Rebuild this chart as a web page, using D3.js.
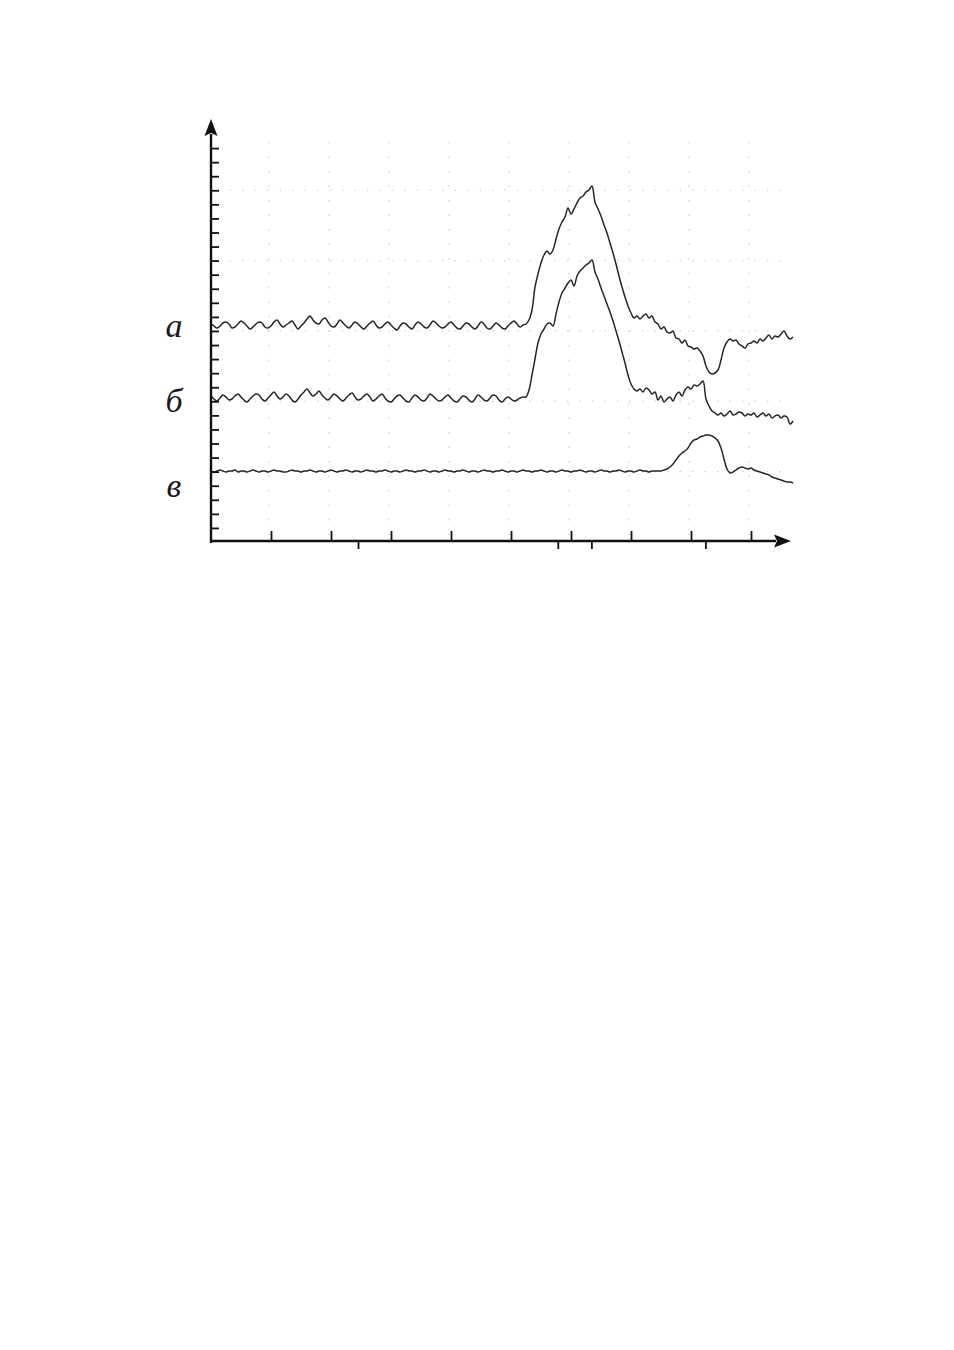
<!DOCTYPE html>
<html><head><meta charset="utf-8">
<script src="https://cdn.jsdelivr.net/npm/d3@7"></script>
<style>html,body{margin:0;padding:0;background:#fff;}</style>
</head><body><svg id="chart" width="954" height="1350"></svg>
<script>
// ---- data (amplitude in arbitrary units, time in arbitrary units) ----
const seriesNames = ["а", "б", "в"];
const sampleStep = 0.5;           // time step between samples
const labelLevels = [216.5, 142, 57];
const majorTicksX = [10, 20, 30, 40, 50, 60, 70, 80, 90];
const markerTicksX = [24.5, 57.8, 63.4, 82.4];
const gridEveryNthTick = 5;

const traceA = [
218,216,214,216,219,220,218,214,215,218,
221,219,216,213,215,218,220,219,215,214,
216,220,222,218,215,217,219,221,217,213,
216,219,223,226,222,219,218,222,224,220,
216,215,218,222,219,216,214,217,220,218,
215,213,216,219,221,217,214,215,218,220,
217,214,212,216,219,218,215,213,217,220,
218,215,214,217,221,219,216,214,215,218,
220,217,214,213,216,219,218,215,213,216,
220,218,214,213,216,219,217,214,213,216,
219,221,218,215,217,
218,222,232,255,268,279,287,291,288,292,
303,313,320,325,334,328,333,339,344,346,
350,352,356,340,333,326,317,309,299,289,
278,266,255,245,236,229,224,226,223,226,
228,224,226,220,218,213,215,210,209,211,
204,203,199,202,196,195,193,194,191,186,
176,170,168,169,172,182,194,200,203,201,
202,198,196,194,198,199,201,199,203,201,
204,207,203,206,205,208,211,206,203,205
];

const traceB = [
146,143,141,144,147,145,142,143,146,148,
145,142,140,143,146,148,147,143,141,144,
147,150,146,143,145,148,146,142,140,143,
147,150,153,149,146,148,151,147,144,142,
145,148,146,143,141,144,147,149,145,142,
143,146,148,145,141,143,146,148,144,141,
140,143,146,147,144,141,140,144,147,145,
142,141,144,148,146,143,141,142,145,147,
144,141,140,143,146,145,142,140,143,147,
145,142,141,144,147,146,142,140,143,145,
143,141,142,144,145,
145,152,167,183,199,208,213,218,219,216,
228,240,249,254,259,262,256,266,271,274,
277,279,282,270,263,254,246,238,230,221,
211,201,190,179,167,158,153,151,153,150,
154,152,148,150,142,146,140,143,145,141,
147,150,146,152,155,153,157,156,158,161,
143,136,131,129,127,129,126,128,131,127,
128,130,129,126,128,127,129,125,127,129,
126,128,124,126,127,124,126,125,118,121
];

const traceC = [
71,70,71,72,71,70,71,71,72,70,
71,71,70,71,72,71,70,71,71,70,
71,72,71,71,70,70,71,72,71,71,
70,71,71,72,71,70,71,71,70,71,
72,71,70,71,71,72,71,70,71,71,
70,71,72,71,71,70,71,71,72,71,
70,71,71,70,71,72,71,71,70,71,
71,72,71,70,71,71,70,71,72,71,
71,70,71,71,72,71,70,71,71,70,
71,72,71,71,70,71,71,72,71,70,
71,71,70,71,72,71,71,70,71,71,
72,71,70,71,71,70,71,72,71,71,
70,71,71,72,71,70,71,71,70,71,
72,71,71,70,71,71,72,71,70,71,
71,70,71,72,71,71,70,71,71,71,
71,72,73,75,78,82,86,89,91,94,
99,102,103,105,106,107,107,106,104,101,
94,83,73,69,70,72,74,75,74,73,
74,72,71,70,69,68,67,65,64,63,
62,61,60,60,59
];

const traces = [traceA, traceB, traceC];

// ---- layout ----
const svg = d3.select("#chart");
const x0 = 211, x1 = 793, yBottom = 542, yTop = 134;
const x = d3.scaleLinear().domain([0, 97]).range([x0, x1]);
const y = d3.scaleLinear().domain([0, 408]).range([yBottom, yTop]);
const tickStep = 408 / 29;
const yTicks = d3.range(1, 29).map(k => k * tickStep);
const gridY = yTicks.filter((d, i) => (i + 1) % gridEveryNthTick === 0);

// grid (faint dotted)
const grid = svg.append("g").attr("stroke", "#cfcfcf").attr("stroke-width", 1.2)
  .attr("stroke-dasharray", "1.5 11").attr("fill", "none");
grid.selectAll("line.h").data(gridY).join("line").attr("class", "h")
  .attr("x1", x0 + 6).attr("x2", x1 - 4)
  .attr("y1", d => y(d)).attr("y2", d => y(d));
grid.selectAll("line.v").data(majorTicksX).join("line").attr("class", "v")
  .attr("x1", d => x(d) - 2).attr("x2", d => x(d) - 2)
  .attr("y1", yTop + 8).attr("y2", yBottom - 4)
  .attr("stroke-dasharray", "1.5 13");

// traces
const line = d3.line().x((d, i) => x(i * sampleStep)).y(d => y(d))
  .curve(d3.curveCatmullRom.alpha(0.5));
svg.append("g").selectAll("path").data(traces).join("path")
  .attr("d", line).attr("fill", "none").attr("stroke", "#262626")
  .attr("stroke-width", 1.5).attr("stroke-linejoin", "round");

// y axis
const yAxis = d3.axisRight(y).tickValues(yTicks).tickSize(8).tickFormat("");
const gy = svg.append("g").attr("transform", `translate(${x0},0)`).call(yAxis);
gy.select(".domain").remove();
gy.selectAll("line").attr("stroke", "#111").attr("stroke-width", 1.8);
svg.append("line").attr("x1", x0).attr("x2", x0).attr("y1", yBottom + 1).attr("y2", yTop)
  .attr("stroke", "#111").attr("stroke-width", 2.4);
svg.append("path").attr("d", `M${x0},${yTop - 15} L${x0 + 6.5},${yTop + 2} L${x0},${yTop - 1} L${x0 - 6.5},${yTop + 2} Z`)
  .attr("fill", "#111");

// x axis
const xEnd = 776;
const gxUp = svg.append("g").attr("transform", `translate(0,${yBottom - 1})`)
  .call(d3.axisTop(x).tickValues(majorTicksX).tickSize(10).tickFormat(""));
gxUp.select(".domain").remove();
gxUp.selectAll("line").attr("stroke", "#111").attr("stroke-width", 1.8);
const gxDown = svg.append("g").attr("transform", `translate(0,${yBottom - 1})`)
  .call(d3.axisBottom(x).tickValues(markerTicksX).tickSize(8).tickFormat(""));
gxDown.select(".domain").remove();
gxDown.selectAll("line").attr("stroke", "#111").attr("stroke-width", 1.8);
svg.append("line").attr("x1", x0 - 1).attr("x2", xEnd).attr("y1", yBottom - 1).attr("y2", yBottom - 1)
  .attr("stroke", "#111").attr("stroke-width", 2.4);
svg.append("path").attr("d", `M${xEnd + 15},${yBottom - 1} L${xEnd - 2},${yBottom - 7.5} L${xEnd + 1},${yBottom - 1} L${xEnd - 2},${yBottom + 5.5} Z`)
  .attr("fill", "#111");

// series labels
svg.append("g").selectAll("text").data(seriesNames).join("text")
  .attr("x", 174).attr("y", (d, i) => y(labelLevels[i]))
  .attr("dominant-baseline", "central").attr("text-anchor", "middle")
  .attr("font-family", "'Liberation Serif', serif")
  .attr("font-style", "italic").attr("font-size", 34).attr("fill", "#1a1a1a")
  .text(d => d);
</script>
</body></html>
